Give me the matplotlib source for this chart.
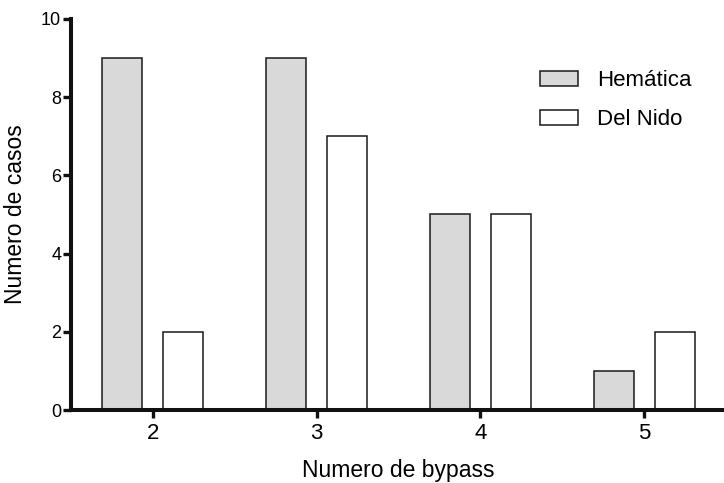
import numpy as np
import matplotlib
matplotlib.use('Agg')
import matplotlib.pyplot as plt

plt.rcParams['font.family'] = ['Liberation Sans', 'DejaVu Sans']

# datos
bypass = [2, 3, 4, 5]
hematica = [9, 9, 5, 1]
del_nido = [2, 7, 5, 2]
series_labels = ['Hemática', 'Del Nido']

fig = plt.figure(figsize=(7.24, 4.83), dpi=100)
ax = fig.add_axes([0.098, 0.151, 0.905, 0.810])

x = np.array(bypass, dtype=float)
w = 0.245
off = 0.186
ax.bar(x - off, hematica, width=w, color='#d9d9d9', edgecolor='#1a1a1a',
       linewidth=1.1, label=series_labels[0])
ax.bar(x + off, del_nido, width=w, color='white', edgecolor='#1a1a1a',
       linewidth=1.1, label=series_labels[1])

ax.set_xlim(1.5, 5.5)
ax.set_ylim(0, 10)
ax.set_xticks(bypass)
ax.set_yticks([0, 2, 4, 6, 8, 10])

for s in ['top', 'right']:
    ax.spines[s].set_visible(False)
for s in ['left', 'bottom']:
    ax.spines[s].set_linewidth(2.9)
    ax.spines[s].set_color('#111111')
    ax.spines[s].set_zorder(5)

ax.tick_params(axis='y', direction='out', length=5.5, width=2.4, pad=1.5,
               labelsize=13, color='#111111')
ax.tick_params(axis='x', direction='out', length=6, width=2.4, pad=3,
               labelsize=16, color='#111111')

ax.set_xlabel('Numero de bypass', fontsize=16.5, labelpad=11)
ax.set_ylabel('Numero de casos', fontsize=16.5, labelpad=10)

ax.legend(loc='upper left', bbox_to_anchor=(0.6855, 0.92), frameon=False,
          fontsize=16, handlelength=1.71, handleheight=0.68,
          handletextpad=0.86, labelspacing=0.82)

plt.savefig('out.png', dpi=100)
